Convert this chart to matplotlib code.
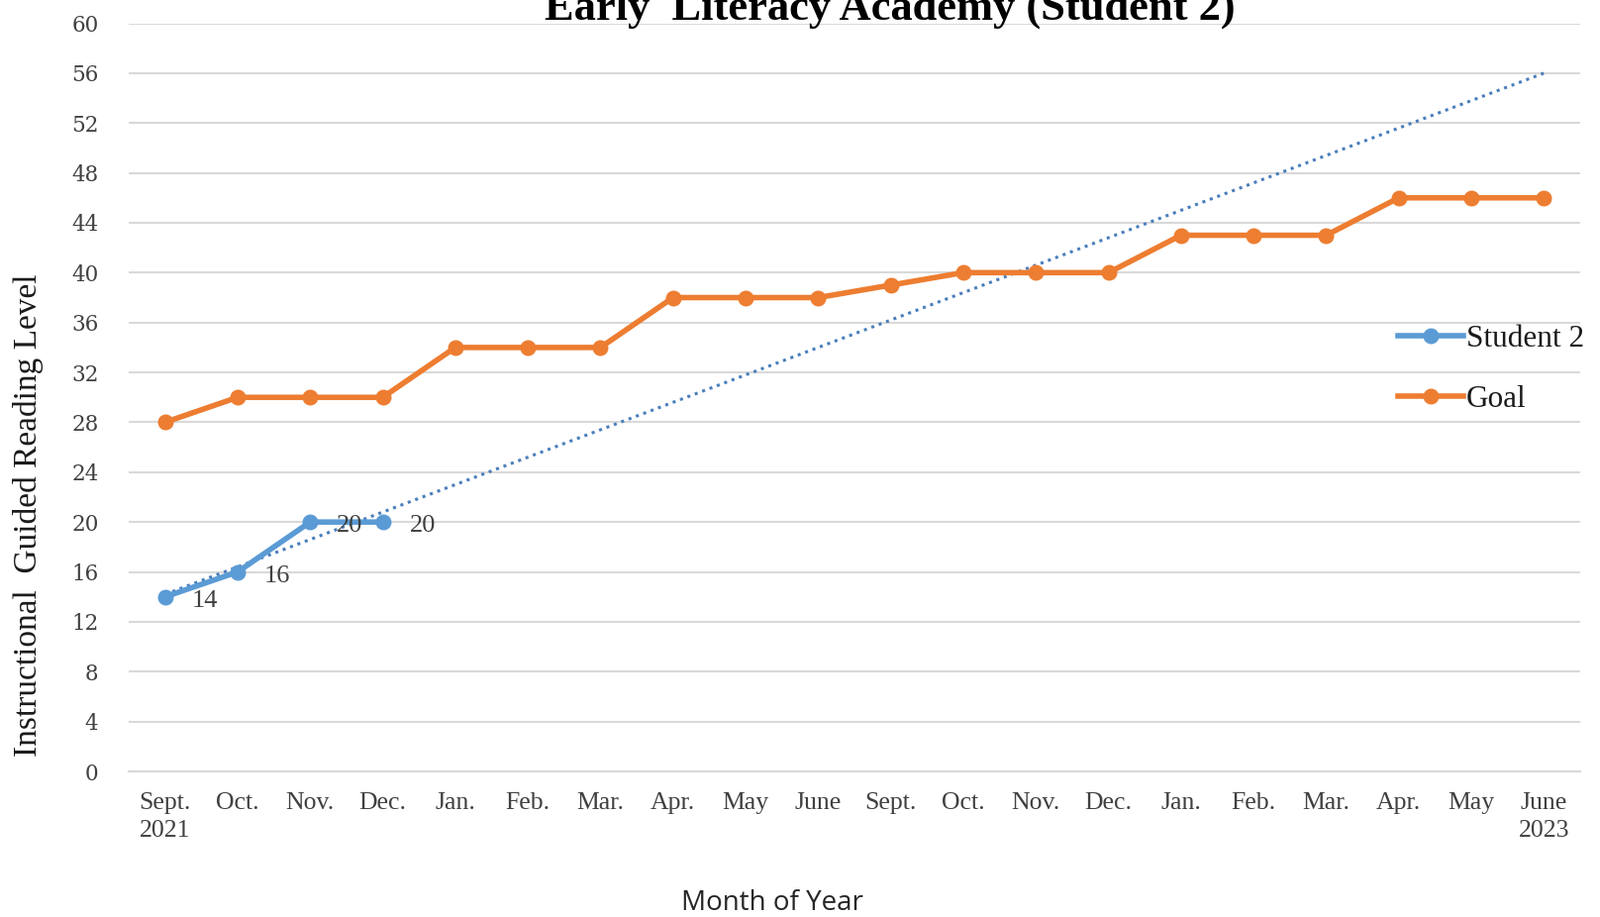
import numpy as np
import matplotlib
matplotlib.use("Agg")
import matplotlib.pyplot as plt

# monthly reading levels
months = ["Sept.\n2021", "Oct.", "Nov.", "Dec.", "Jan.", "Feb.", "Mar.", "Apr.", "May", "June",
          "Sept.", "Oct.", "Nov.", "Dec.", "Jan.", "Feb.", "Mar.", "Apr.", "May", "June\n2023"]
student = [14, 16, 20, 20]
goal = [28, 30, 30, 30, 34, 34, 34, 38, 38, 38, 39, 40, 40, 40, 43, 43, 43, 46, 46, 46]
yticks = list(range(0, 61, 4))

blue = "#5B9BD5"
orange = "#ED7D31"
grid = "#D9D9D9"
txt = "#404040"

fig = plt.figure(figsize=(16.16, 9.26), dpi=100)
ax = fig.add_axes([130 / 1616, 1 - 779 / 926, 1466 / 1616, (779 - 23.5) / 926])

x = np.arange(len(months))
xs = np.arange(len(student))

# linear trend of the student's scores, carried across all months
k, b = np.polyfit(xs, student, 1)
ax.plot(x, k * x + b, linestyle=(0, (1, 1.6)), color="#4A7EBB", lw=2.2, zorder=2)

ax.plot(xs, student, color=blue, lw=4, marker="o", ms=10.5, label="Student 2", zorder=4)
ax.plot(x, goal, color=orange, lw=4, marker="o", ms=10.5, label="Goal", zorder=3)

for xi, v in zip(xs, student):
    ax.annotate(str(v), (xi, v), xytext=(29, -3), textcoords="offset points",
                ha="center", va="center", fontsize=19, color=txt,
                family="Liberation Serif", zorder=5)

ax.set_xlim(-0.5, len(months) - 0.5)
ax.set_ylim(0, 60)
ax.set_yticks(yticks)
ax.set_xticks(x)
ax.set_xticklabels(months, family="Liberation Serif", fontsize=18.5, color=txt,
                   linespacing=1.35)
ax.set_yticklabels([str(t) for t in yticks], family="DejaVu Serif", fontsize=15.5, color=txt)
ax.tick_params(axis="x", length=0, pad=15)
ax.tick_params(axis="y", length=0, pad=22)

ax.grid(axis="y", color=grid, lw=1.5)
ax.set_axisbelow(True)
for s in ["top", "right", "left"]:
    ax.spines[s].set_visible(False)
ax.spines["bottom"].set_color(grid)
ax.spines["bottom"].set_linewidth(1.5)

ax.set_ylabel("Instructional  Guided Reading Level", family="Liberation Serif",
              fontsize=24, color="#1a1a1a")
ax.yaxis.set_label_coords(-(130 - 44) / 1466, (779 - 520) / 755.5)

fig.text(780 / 1616, 1 - 912 / 926, "Month of Year", family="Open Sans",
         fontsize=20, color="#262626", ha="center", va="center")

fig.text(899 / 1616, 1 - 20 / 926, "Early  Literacy Academy (Student 2)",
         family="Liberation Serif", weight="bold", fontsize=32, ha="center",
         va="baseline", color="#000000")

leg = fig.legend(loc="center left", bbox_to_anchor=(1406 / 1616, 1 - 373 / 926),
                 frameon=False, handlelength=2.1, handletextpad=0.1,
                 labelspacing=1.0, borderpad=0.2, borderaxespad=0,
                 prop={"family": "Liberation Serif", "size": 22.5})
for t in leg.get_texts():
    t.set_color("#1a1a1a")

fig.savefig("out.png", dpi=100)
